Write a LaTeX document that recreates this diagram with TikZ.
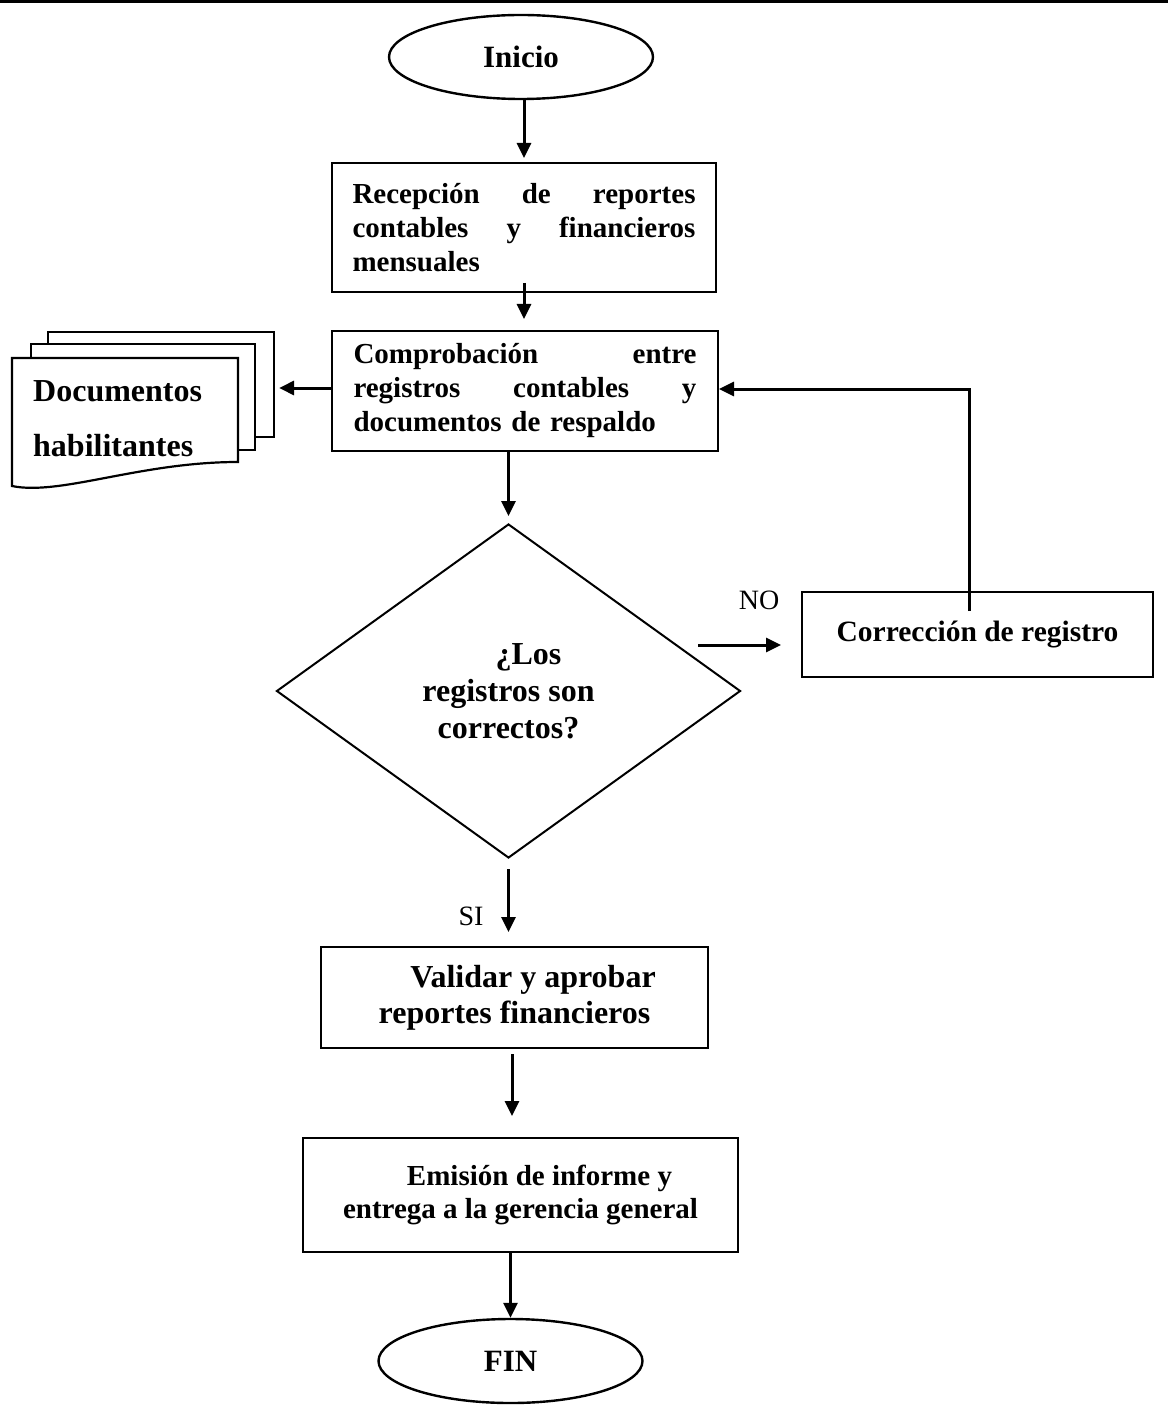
\documentclass[tikz,border=0pt]{standalone}
\usepackage{fontspec}
\setmainfont{Liberation Serif}
\usetikzlibrary{arrows.meta,shapes.geometric,calc}
\tikzset{
  box/.style={draw, line width=2pt, inner sep=0pt, font=\bfseries\fontsize{29}{34}\selectfont},
  term/.style={draw, ellipse, line width=2.4pt, minimum width=264pt, minimum height=84pt, inner sep=0pt, font=\bfseries\fontsize{31}{36}\selectfont},
  arr/.style={line width=3pt, -{Triangle[length=15pt,width=14pt]}},
  lbl/.style={font=\fontsize{28}{32}\selectfont, inner sep=0pt},
  sheet/.style={draw, line width=2.2pt, fill=white},
}
\newcommand{\jline}[1]{\leavevmode\hbox to 343pt{#1}}
\begin{document}
\begin{tikzpicture}[x=1pt,y=-1pt]
\useasboundingbox (0,0) rectangle (1168,1420);
% top rule
\draw[line width=3pt] (0,1.5) -- (1168,1.5);

% terminals
\node[term] (ini) at (521,57) {Inicio};
\node[term] (fin) at (510.5,1361) {FIN};

% process boxes
\node[box, minimum width=384pt, minimum height=129pt, text width=343pt, align=left] (rec) at (524,227.5)
  {\jline{Recepción\hfill de\hfill reportes}\\\jline{contables\hfill y\hfill financieros}\\mensuales};
\node[box, minimum width=386pt, minimum height=120pt, text width=343pt, align=left] (comp) at (525,391)
  {\jline{Comprobación\hfill entre}\\\jline{registros\hfill contables\hfill y}\\documentos de respaldo};
\node[box, minimum width=351pt, minimum height=85pt, font=\bfseries\fontsize{29.5}{34}\selectfont] (corr) at (977.5,634.5) {Corrección de registro};
\node[box, minimum width=387pt, minimum height=101pt, align=center, font=\bfseries\fontsize{32}{36}\selectfont] (val) at (514.5,997.5)
  {\hspace*{37pt}Validar y aprobar\\reportes financieros};
\node[box, minimum width=435pt, minimum height=114pt, align=center, font=\bfseries\fontsize{29}{33}\selectfont] (emi) at (520.5,1195)
  {\hspace*{38pt}Emisión de informe y\\entrega a la gerencia general};

% decision
\node[draw, diamond, line width=2pt, minimum width=464pt, minimum height=334pt, inner sep=0pt, align=center,
      font=\bfseries\fontsize{32}{37}\selectfont] (dia) at (508.5,691)
  {\hspace*{40pt}¿Los\\registros son\\correctos?};

% document stack
\node[sheet, minimum width=226pt, minimum height=105pt, inner sep=0pt] (docsback) at (161,384.5) {};
\node[sheet, minimum width=224pt, minimum height=106pt, inner sep=0pt] (docsmid) at (143,397) {};
\draw[sheet] (12,358) -- (238,358) -- (238,462) .. controls (140,462) and (60,496) .. (12,486) -- cycle;
\node[anchor=west, align=left, inner sep=0pt, font=\bfseries\fontsize{32}{55}\selectfont] (doctext) at (33,419)
  {Documentos\\habilitantes};

% connectors
\draw[arr, shorten >=4pt] (ini.south -| rec.north) -- (rec.north);
\draw[arr, shorten <=-10pt, shorten >=11pt] (rec.south) -- (rec.south |- comp.north);
\draw[arr, shorten >=4pt] ([yshift=3pt]comp.west) -- ([yshift=3pt]comp.west -| docsback.east);
\draw[arr, shorten >=7pt] (dia.north |- comp.south) -- (dia.north);
\coordinate (nostart) at (698,645);
\draw[arr, shorten >=20pt] (nostart) -- (nostart -| corr.west);
\node[lbl] (nolbl) at (759,600) {NO};
\draw[arr] ([xshift=-8.5pt,yshift=-20pt]corr.north) -- ([xshift=-8.5pt,yshift=2pt]corr.north |- comp.east) -- ([yshift=2pt]comp.east);
\draw[arr, shorten <=10pt, shorten >=14pt] (dia.south) -- (dia.south |- val.north);
\node[lbl] (silbl) at (471,916) {SI};
\draw[arr, shorten <=5pt, shorten >=21pt] (val.south -| 512,0) -- (emi.north -| 512,0);
\draw[arr] (fin.north |- emi.south) -- (fin.north);
\end{tikzpicture}
\end{document}
